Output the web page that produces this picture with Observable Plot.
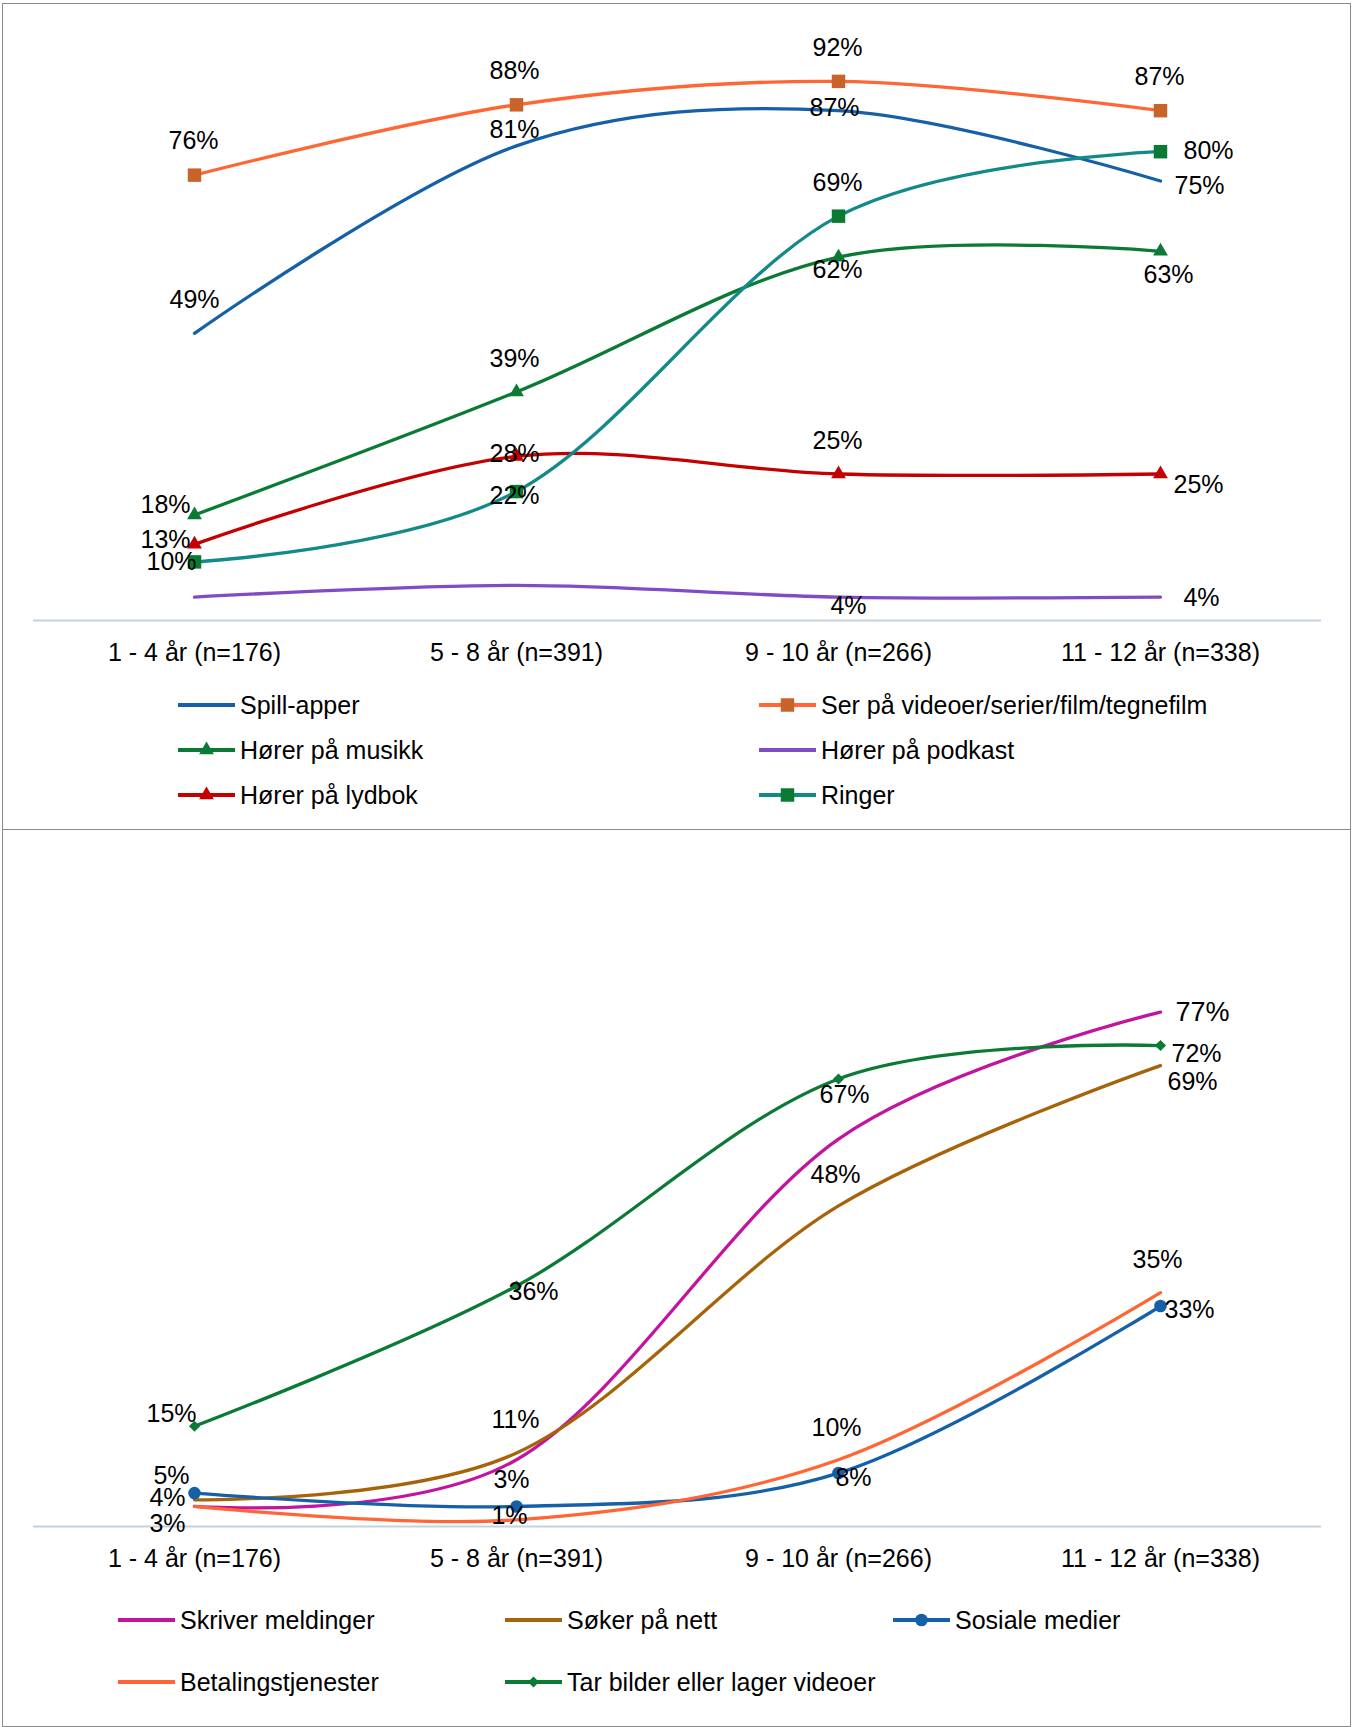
<!DOCTYPE html>
<html>
<head>
<meta charset="utf-8">
<script src="https://cdn.jsdelivr.net/npm/d3@7"></script>
<script src="https://cdn.jsdelivr.net/npm/@observablehq/plot@0.6"></script>
<style>
  body { margin: 0; background: #fff; font-family: "Liberation Sans", Arial, sans-serif; }
  #page { position: relative; width: 1353px; height: 1727px; overflow: hidden; }
  .panel { position: absolute; left: 2px; width: 1349px; border: 1px solid #8a8a8a; box-sizing: border-box; }
  .chart { position: absolute; left: 0; }
  .item { position: absolute; display: flex; align-items: center; font-size: 25px; color: #000; white-space: nowrap; }
  .item svg { display: block; margin-right: 5px; }
</style>
</head>
<body>
<div id="page">
  <div class="panel" style="top:3px;height:827px"></div>
  <div class="panel" style="top:829px;height:898px"></div>
</div>
<script>
// Aldersgrupper (x-akse)
const ageGroups = ["1 - 4 år (n=176)", "5 - 8 år (n=391)", "9 - 10 år (n=266)", "11 - 12 år (n=338)"];

// Øverste figur: andel barn (%) per aktivitet
const spillApper = [49, 81, 87, 75];
const serPaVideoer = [76, 88, 92, 87];
const horerPaMusikk = [18, 39, 62, 63];
const horerPaPodkast = [4, 6, 4, 4];
const horerPaLydbok = [13, 28, 25, 25];
const ringer = [10, 22, 69, 80];

// Nederste figur
const skriverMeldinger = [3, 10, 58, 77];
const sokerPaNett = [4, 11, 48, 69];
const sosialeMedier = [5, 3, 8, 33];
const betalingstjenester = [3, 1, 10, 35];
const tarBilder = [15, 36, 67, 72];

const axisColor = "#c3d1e0";
const font = '"Liberation Sans", Arial, sans-serif';

// Serier med farger, markører og plassering av dataetiketter (dx, dy[, skriftstørrelse]; null = ingen etikett)
const topSeries = [
  {name: "Spill-apper", values: spillApper, color: "#1560a8",
   nudge: [[0, -33], [-2, -16], [-4, -3], [39, 5]]},
  {name: "Ser på videoer/serier/film/tegnefilm", values: serPaVideoer, color: "#ff6633",
   symbol: "square", r: 7.6, markerColor: "#c8632a",
   nudge: [[-1, -34], [-2, -34], [-1, -33], [-1, -34]]},
  {name: "Hører på musikk", values: horerPaMusikk, color: "#0b7a34",
   symbol: "triangle", r: 5.5, markerColor: "#0b7a34",
   nudge: [[-29, -10], [-2, -33], [-1, 13], [8, 24]]},
  {name: "Hører på podkast", values: horerPaPodkast, color: "#7f4cc6",
   nudge: [null, null, [10, 9], [41, 1]]},
  {name: "Hører på lydbok", values: horerPaLydbok, color: "#c40000",
   symbol: "triangle", r: 5.5, markerColor: "#c40000",
   nudge: [[-29, -4], [-2, -2], [-1, -33], [38, 11]]},
  {name: "Ringer", values: ringer, color: "#138a8a",
   symbol: "square", r: 7.6, markerColor: "#0a7a32",
   nudge: [[-23, 0], [-2, 4], [-1, -33], [48, -1]]}
];

const bottomSeries = [
  {name: "Skriver meldinger", values: skriverMeldinger, color: "#c2149e",
   nudge: [null, null, null, [42, 0, 27]]},
  {name: "Søker på nett", values: sokerPaNett, color: "#a6630a",
   nudge: [[-27, -2], [-1, -33], [-3, -31], [32, 16]]},
  {name: "Sosiale medier", values: sosialeMedier, color: "#1560a8",
   symbol: "circle", r: 6.3, markerColor: "#1560a8",
   nudge: [[-23, -17], [-5, -26], [15, 5], [29, 4]]},
  {name: "Betalingstjenester", values: betalingstjenester, color: "#ff6633",
   nudge: [[-27, 18], [-7, -4], [-2, -32], [-3, -33]]},
  {name: "Tar bilder eller lager videoer", values: tarBilder, color: "#0b7a34",
   symbol: "diamond2", r: 5, markerColor: "#0b7a34",
   nudge: [[-23, -12], [17, 6], [6, 16], [36, 8]]}
];

function chart(series, {height, marginTop, marginBottom}) {
  const marks = [
    Plot.ruleY([0], {stroke: axisColor, strokeWidth: 2}),
    Plot.axisX({tickSize: 0, tickPadding: 23, fontSize: 25, label: null, fill: "#000"})
  ];
  for (const s of series) {
    const rows = ageGroups.map((g, i) => ({group: g, value: s.values[i]}));
    marks.push(Plot.line(rows, {x: "group", y: "value", stroke: s.color, strokeWidth: 3.3, curve: "cardinal"}));
    if (s.symbol) {
      marks.push(Plot.dot(rows, {x: "group", y: "value", symbol: s.symbol, r: s.r, fill: s.markerColor}));
    }
  }
  for (const s of series) {
    s.nudge.forEach((n, i) => {
      if (!n) return;
      marks.push(Plot.text([{group: ageGroups[i], value: s.values[i]}], {
        x: "group", y: "value", text: d => `${d.value}%`,
        dx: n[0], dy: n[1], fontSize: n[2] ?? 25, fill: "#000"
      }));
    });
  }
  return Plot.plot({
    width: 1353, height, marginTop, marginBottom, marginLeft: 33, marginRight: 32,
    x: {type: "point", domain: ageGroups, padding: 0.5},
    y: {domain: [0, 100], axis: null},
    style: {fontFamily: font, background: "transparent", color: "#000", overflow: "visible"},
    marks
  });
}

function legendSwatch(s) {
  const w = 57, h = 22;
  const svg = d3.create("svg").attr("width", w).attr("height", h);
  svg.append("line").attr("x1", 0).attr("x2", w).attr("y1", h / 2).attr("y2", h / 2)
    .attr("stroke", s.color).attr("stroke-width", 4);
  if (s.symbol) {
    const sym = {square: d3.symbolSquare, triangle: d3.symbolTriangle, circle: d3.symbolCircle, diamond2: d3.symbolDiamond2}[s.symbol];
    svg.append("path").attr("transform", `translate(${w / 2},${h / 2})`)
      .attr("d", d3.symbol(sym, Math.PI * s.r * s.r)()).attr("fill", s.markerColor);
  }
  return svg.node();
}

function addLegend(items) {
  const page = document.getElementById("page");
  for (const [s, x, y] of items) {
    const div = document.createElement("div");
    div.className = "item";
    div.style.left = x + "px";
    div.style.top = (y - 15) + "px";
    div.style.height = "30px";
    div.appendChild(legendSwatch(s));
    const span = document.createElement("span");
    span.textContent = s.name;
    div.appendChild(span);
    page.appendChild(div);
  }
}

const page = document.getElementById("page");
const top1 = chart(topSeries, {height: 690, marginTop: 34, marginBottom: 70});
top1.classList.add("chart");
top1.style.top = "0px";
page.appendChild(top1);

const bottom1 = chart(bottomSeries, {height: 766, marginTop: 28, marginBottom: 70});
bottom1.classList.add("chart");
bottom1.style.top = "830px";
page.appendChild(bottom1);

addLegend([
  [topSeries[0], 178, 705], [topSeries[1], 759, 705],
  [topSeries[2], 178, 750], [topSeries[3], 759, 750],
  [topSeries[4], 178, 795], [topSeries[5], 759, 795],
  [bottomSeries[0], 118, 1620], [bottomSeries[1], 505, 1620], [bottomSeries[2], 893, 1620],
  [bottomSeries[3], 118, 1682], [bottomSeries[4], 505, 1682]
]);
</script>
</body>
</html>
